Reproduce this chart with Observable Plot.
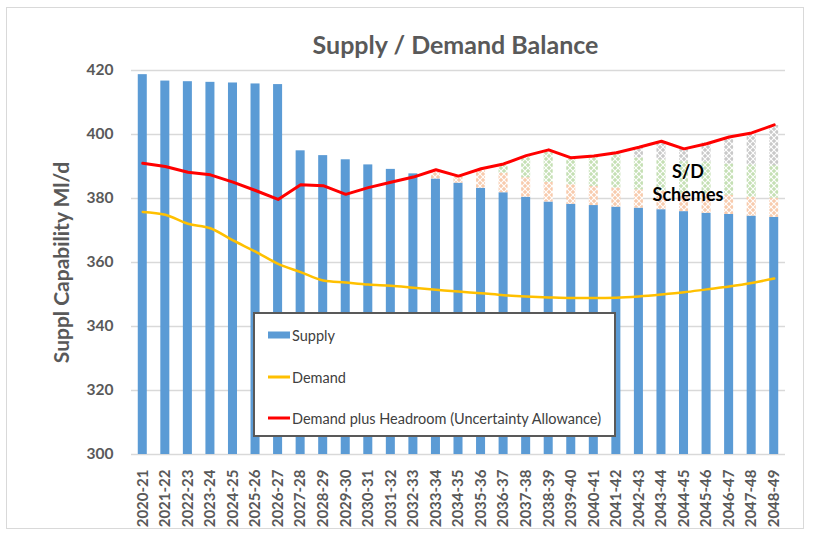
<!DOCTYPE html>
<html>
<head>
<meta charset="utf-8">
<script src="https://cdn.jsdelivr.net/npm/d3@7"></script>
<script src="https://cdn.jsdelivr.net/npm/@observablehq/plot@0.6"></script>
<style>
  body { margin: 0; background: #fff; font-family: Lato, sans-serif; }
  #wrap { position: relative; width: 814px; height: 535px; }
  #frame { position: absolute; left: 6px; top: 7px; width: 798px; height: 522px; border: 1px solid #d9d9d9; box-sizing: border-box; pointer-events: none; }
  #legend { position: absolute; left: 253px; top: 312px; width: 363px; height: 125px; border: 2px solid #595959; background: #fff; box-sizing: border-box; font-size: 14.5px; color: #404040; font-family: Lato, sans-serif; }
  .item { position: absolute; left: 13px; display: flex; align-items: center; transform: translateY(-50%); white-space: nowrap; }
  .sw { width: 22px; margin-right: 2px; }
  #chart svg g[aria-label$="tick label"] text { font-weight: bold; }
</style>
</head>
<body>
<svg width="0" height="0" style="position:absolute">
  <defs>
    <pattern id="pOrange" width="6" height="6" patternUnits="userSpaceOnUse">
      <rect width="6" height="6" fill="#f8cbad"/>
      <path d="M0,0L6,6M6,0L0,6" stroke="#fff" stroke-width="1.1"/>
    </pattern>
    <pattern id="pGreen" width="6" height="6" patternUnits="userSpaceOnUse">
      <rect width="6" height="6" fill="#c5e0b4"/>
      <path d="M0,0L6,6M6,0L0,6" stroke="#fff" stroke-width="1.1"/>
    </pattern>
    <pattern id="pGrey" width="6" height="6" patternUnits="userSpaceOnUse">
      <rect width="6" height="6" fill="#c9c9c9"/>
      <path d="M0,0L6,6M6,0L0,6" stroke="#fff" stroke-width="1.1"/>
    </pattern>
  </defs>
</svg>
<div id="wrap">
  <div id="chart"></div>
  <div id="frame"></div>
  <div id="legend">
    <div class="item" style="top:21px"><div class="sw" style="height:7px;background:#5b9bd5"></div><span>Supply</span></div>
    <div class="item" style="top:63px"><div class="sw" style="height:2.5px;background:#ffc000"></div><span>Demand</span></div>
    <div class="item" style="top:104px"><div class="sw" style="height:2.5px;background:#ff0000"></div><span>Demand plus Headroom (Uncertainty Allowance)</span></div>
  </div>
</div>
<script>
const categories = ["2020-21","2021-22","2022-23","2023-24","2024-25","2025-26","2026-27","2027-28","2028-29","2029-30",
  "2030-31","2031-32","2032-33","2033-34","2034-35","2035-36","2036-37","2037-38","2038-39","2039-40",
  "2040-41","2041-42","2042-43","2043-44","2044-45","2045-46","2046-47","2047-48","2048-49"];
const supply = [418.7, 416.7, 416.5, 416.3, 416.1, 415.8, 415.6, 394.9, 393.4, 392.1,
  390.5, 389.1, 387.7, 386.1, 384.8, 383.2, 381.8, 380.4, 378.9, 378.2,
  377.8, 377.3, 377.0, 376.5, 375.9, 375.4, 375.0, 374.5, 374.1];
const demand = [375.8, 374.9, 372.1, 370.7, 366.9, 363.4, 359.6, 357.0, 354.4, 353.75,
  353.1, 352.7, 352.1, 351.5, 350.9, 350.4, 349.8, 349.4, 349.1, 348.9,
  348.9, 349.0, 349.4, 350.0, 350.7, 351.6, 352.5, 353.6, 355.0];
const headroom = [391.0, 390.0, 388.2, 387.4, 385.1, 382.5, 379.7, 384.3, 384.0, 381.3,
  383.4, 385.1, 386.7, 389.0, 387.0, 389.3, 390.8, 393.4, 395.2, 392.7,
  393.3, 394.3, 396.0, 397.9, 395.5, 397.1, 399.2, 400.5, 403.0];
// S/D scheme tops (cumulative above supply); null = no scheme
const schemeATop = [null,null,null,null,null,null,null,null,null,null,
  null,null,null,388.2,387.0,389.0,387.9,386.5,385.0,384.3,
  383.75,383.3,382.7,382.2,381.7,381.4,381.0,380.4,380.1];
const schemeBTop = [null,null,null,null,null,null,null,null,null,null,
  null,null,null,null,null,null,390.6,393.1,394.5,392.4,
  392.9,393.75,392.7,392.1,391.5,391.4,390.8,390.5,390.3];
const schemeCTop = [null,null,null,null,null,null,null,null,null,null,
  null,null,null,null,null,null,null,null,null,null,
  null,394.5,395.8,397.4,395.5,397.4,398.6,400.2,402.8];
const yTicks = [300, 320, 340, 360, 380, 400, 420];

const rows = categories.map((c, i) => ({cat: c, supply: supply[i], demand: demand[i], headroom: headroom[i]}));
const segA = [], segB = [], segC = [];
categories.forEach((c, i) => {
  if (schemeATop[i] != null) segA.push({cat: c, lo: supply[i], hi: schemeATop[i]});
  if (schemeBTop[i] != null) segB.push({cat: c, lo: schemeATop[i], hi: schemeBTop[i]});
  if (schemeCTop[i] != null) segC.push({cat: c, lo: schemeBTop[i], hi: schemeCTop[i]});
});

const chart = Plot.plot({
  width: 814,
  height: 535,
  marginLeft: 131,
  marginRight: 29,
  marginTop: 70,
  marginBottom: 81,
  style: {fontFamily: "Lato, sans-serif", color: "#595959", background: "transparent"},
  x: {domain: categories, paddingInner: 0.6, paddingOuter: 0.3, round: false, label: null},
  y: {domain: [300, 420], label: null},
  marks: [
    Plot.ruleY(yTicks, {stroke: "#d9d9d9", strokeWidth: 1.3}),
    Plot.barY(rows, {x: "cat", y1: 300, y2: "supply", fill: "#5b9bd5"}),
    Plot.barY(segA, {x: "cat", y1: "lo", y2: "hi", fill: "url(#pOrange)"}),
    Plot.barY(segB, {x: "cat", y1: "lo", y2: "hi", fill: "url(#pGreen)"}),
    Plot.barY(segC, {x: "cat", y1: "lo", y2: "hi", fill: "url(#pGrey)"}),
    Plot.line(rows, {x: "cat", y: "demand", stroke: "#ffc000", strokeWidth: 2.5, curve: "monotone-x"}),
    Plot.line(rows, {x: "cat", y: "headroom", stroke: "#ff0000", strokeWidth: 3}),
    Plot.axisX({tickRotate: -90, tickSize: 0, tickPadding: 15, fontSize: 15, fontWeight: "bold", label: null}),
    Plot.axisY({ticks: yTicks, tickSize: 0, tickPadding: 18, fontSize: 15.5, fontWeight: "bold", label: null}),
    Plot.text(["Supply / Demand Balance"], {frameAnchor: "top", dy: -34, dx: -3, fontSize: 25, fontWeight: "bold", fill: "#595959"}),
    Plot.text(["Suppl Capability Ml/d"], {frameAnchor: "left", dx: -69, rotate: -90, textAnchor: "middle", fontSize: 21, fontWeight: "bold", fill: "#595959"}),
    Plot.text(["S/D\nSchemes"], {x: () => "2044-45", y: () => 385.2, dx: 4, fontSize: 18, fontWeight: "bold", fill: "#000", lineHeight: 1.3})
  ]
});
document.getElementById("chart").appendChild(chart);
</script>
</body>
</html>
